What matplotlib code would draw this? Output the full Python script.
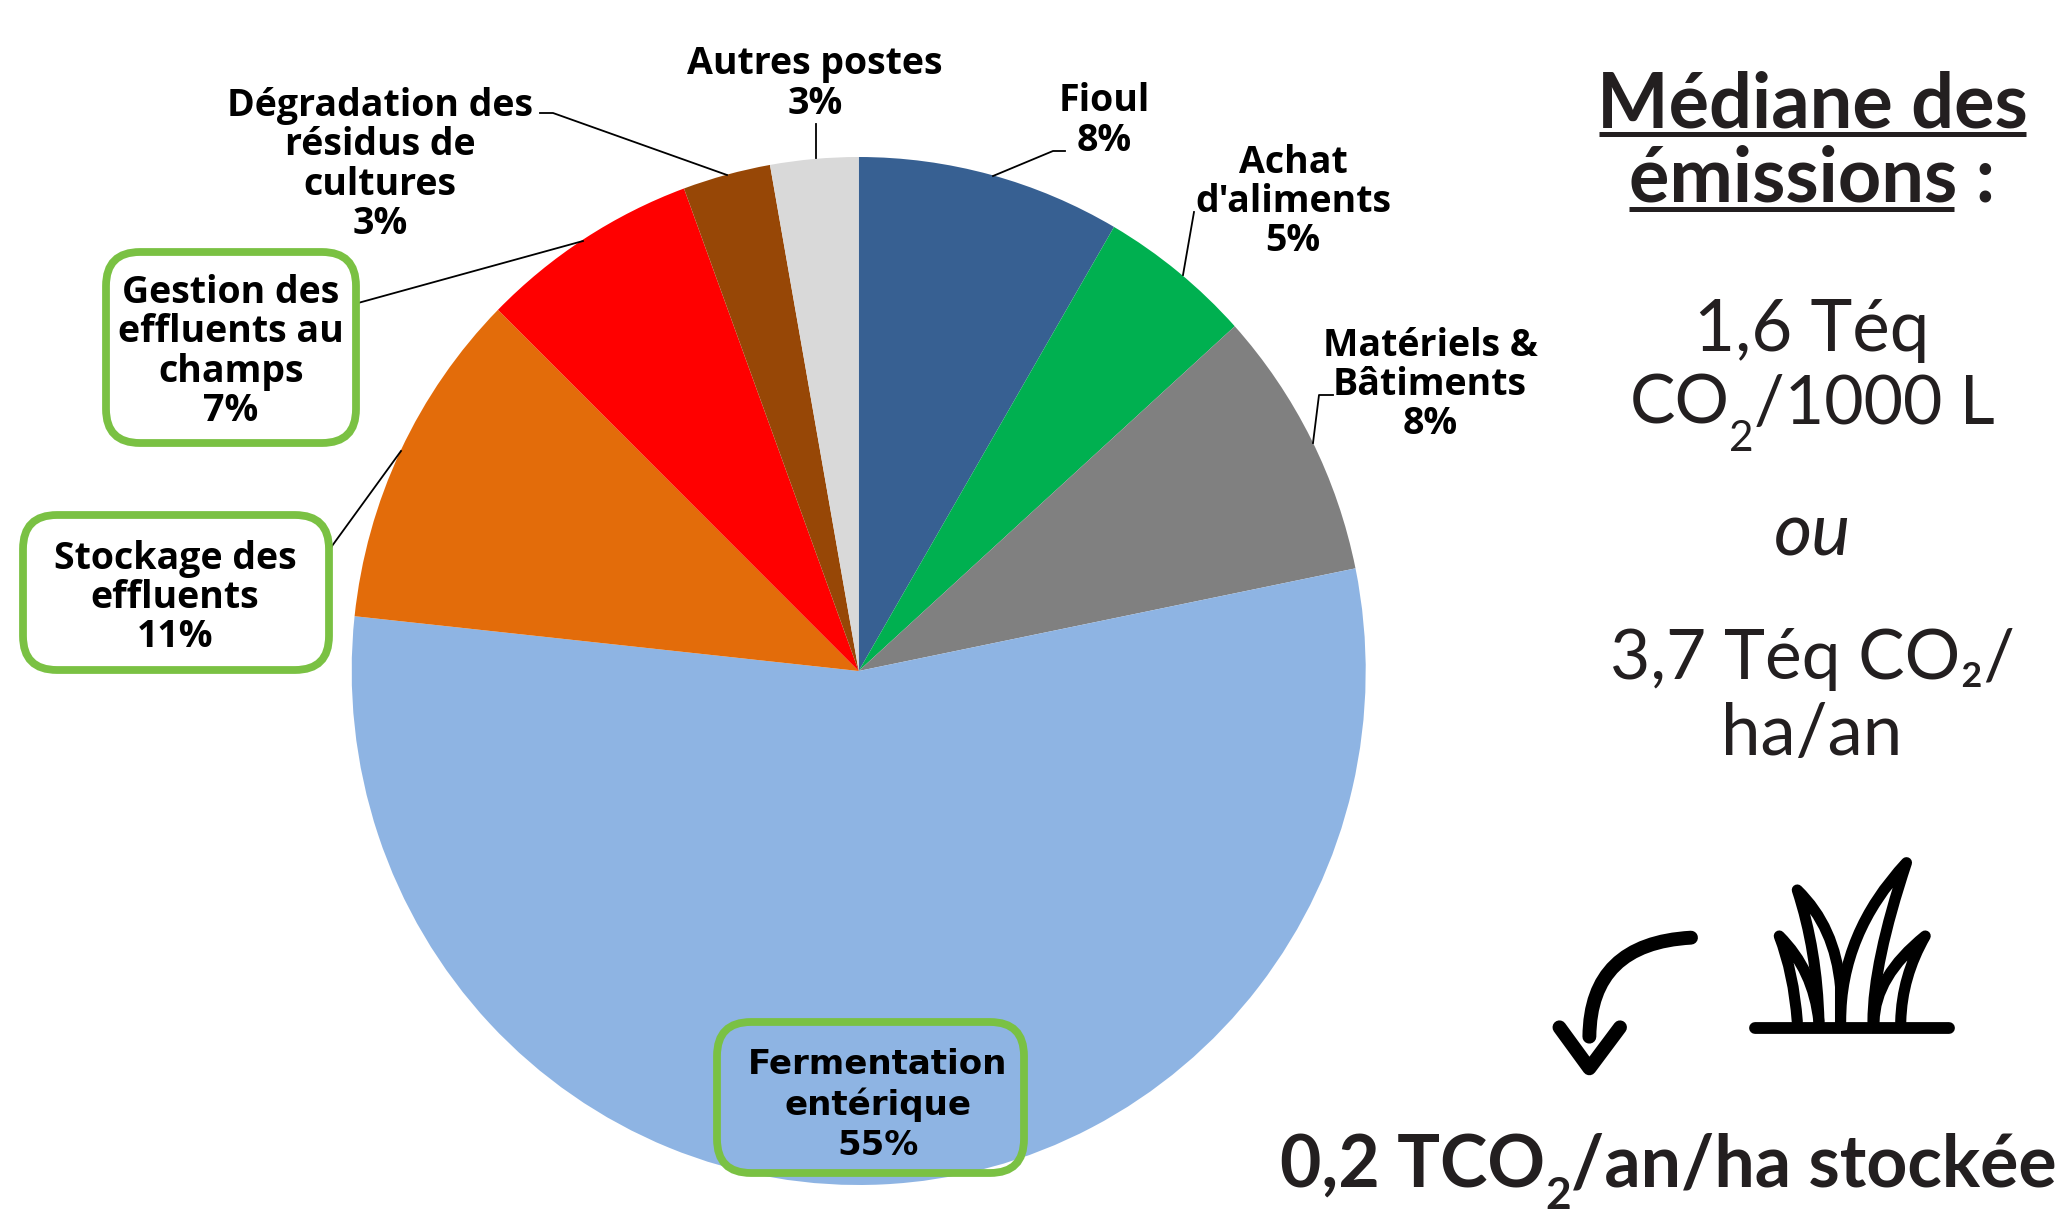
#!/usr/bin/python3

import matplotlib
matplotlib.use("Agg")
import matplotlib.pyplot as plt
from matplotlib.patches import FancyBboxPatch, PathPatch
from matplotlib.path import Path

# --- Data ---
categories = ["Fioul", "Achat\nd'aliments", "Matériels &\nBâtiments", "Fermentation\nentérique",
              "Stockage des\neffluents", "Gestion des\neffluents au\nchamps",
              "Dégradation des\nrésidus de\ncultures", "Autres postes"]
labels_pct = [8, 5, 8, 55, 11, 7, 3, 3]
# wedge sizes as measured on the picture
shares = [8.4, 4.9, 8.5, 54.9, 10.7, 7.0, 2.8, 2.8]
colors = ["#376092", "#00B050", "#808080", "#8EB4E3", "#E36C0A", "#FF0000", "#974706", "#D9D9D9"]

# --- Layout (pixels of the 2065x1215 picture) ---
W, H = 2065, 1215
CX, CY, RX, RY = 858.7, 671, 507, 514
label_pos = [(1104, 121), (1293, 202), (1430, 385), (878, 1105), (175, 598), (231, 352), (380, 165), (815, 84)]
LABEL_SIZE = 27
TEXT_COLOR = "#231F20"

leaders = [
    [(993, 176), (1053, 151), (1065, 151)],
    [(1183, 275), (1194, 212)],
    [(1313, 443), (1319, 395), (1333, 395)],
    [(401, 451), (332, 546), (324, 565), (304, 565)],
    [(583, 241), (358, 303), (347, 303)],
    [(727, 175), (553, 113), (540, 113)],
    [(816, 158), (816, 124)],
]
# x0, y0, x1, y1, filled
boxes = [(106, 252, 356, 443, True), (23, 515, 329, 670, True), (717, 1022, 1024, 1173, False)]

fig = plt.figure(figsize=(W / 100, H / 100), dpi=100)

# pie on its own axes, a bit taller than wide like the picture
ax_pie = fig.add_axes([(CX - RX) / W, 1 - (CY + RY) / H, 2 * RX / W, 2 * RY / H])
ax_pie.pie(shares, colors=colors, startangle=90, counterclock=False, radius=1,
           wedgeprops={"linewidth": 0})
ax_pie.set_aspect("auto")
ax_pie.set_xlim(-1, 1)
ax_pie.set_ylim(-1, 1)

# overlay in picture pixels
ax = fig.add_axes([0, 0, 1, 1])
ax.set_xlim(0, W)
ax.set_ylim(H, 0)
ax.axis("off")
ax.patch.set_alpha(0)

for pts in leaders:
    ax.plot([p[0] for p in pts], [p[1] for p in pts], color="black", lw=1.3, zorder=2)

for x0, y0, x1, y1, filled in boxes:
    ax.add_patch(FancyBboxPatch((x0 + 34, y0 + 34), x1 - x0 - 68, y1 - y0 - 68,
                                boxstyle="round,pad=34,rounding_size=34",
                                fc="white" if filled else "none", ec="#7AC143", lw=5.6, zorder=3))

for name, pct, (x, y) in zip(categories, labels_pct, label_pos):
    # the Fermentation label is the only one in the wider face
    wide = name.startswith("Fermentation")
    ax.text(x, y, f"{name}\n{pct}%", ha="center", va="center", ma="center",
            fontsize=24.5 if wide else LABEL_SIZE, fontweight="bold",
            family="DejaVu Sans" if wide else "Open Sans", color="black",
            linespacing=1.24 if wide else 1.04, zorder=4)


# --- Right column ---
def right_text(x, y, s, size, **kw):
    return ax.text(x, y, s, ha="center", va="baseline", fontsize=size, family="Lato", color=TEXT_COLOR, **kw)


def run_text(cx, y, parts, size, drop=0.55, **kw):
    # text with a big dropped subscript, parts are (string, is_subscript)
    renderer = fig.canvas.get_renderer()
    items = []
    for s, sub in parts:
        t = ax.text(0, y + (size * drop if sub else 0), s, ha="left", va="baseline", family="Lato",
                    fontsize=size * 0.62 if sub else size, color=TEXT_COLOR, **kw)
        items.append((t, t.get_window_extent(renderer).width))
    x = cx - sum(i[1] for i in items) / 2
    for t, w in items:
        t.set_x(x)
        x += w


right_text(1812, 127, "Médiane des", 54.5, fontweight="bold")
ax.plot([1599, 2026], [134, 134], color=TEXT_COLOR, lw=3.6, solid_capstyle="butt")
right_text(1812, 201, "émissions :", 54.5, fontweight="bold")
ax.plot([1629, 1954], [209, 209], color=TEXT_COLOR, lw=3.6, solid_capstyle="butt")
right_text(1812, 351, "1,6 Téq", 51)
run_text(1812, 424, [("CO", False), ("2", True), ("/1000 L", False)], 49)
right_text(1812, 555, "ou", 53, fontstyle="italic")
right_text(1812, 679, "3,7 Téq CO₂/", 50)
right_text(1812, 755, "ha/an", 51)
run_text(1668, 1187, [("0,2 TCO", False), ("2", True), ("/an/ha stockée", False)], 51.5, drop=0.42, fontweight="bold")


# --- Icons ---
def icon(verts, codes, lw):
    ax.add_patch(PathPatch(Path(verts, codes), fc="none", ec="black", lw=lw, capstyle="round", joinstyle="round"))


def z(x, y):
    # from the zoomed crop to picture pixels
    return (1500 + x / 2.775, 830 + y / 3)


M, C, L = Path.MOVETO, Path.CURVE3, Path.LINETO
# arrow
icon([z(530, 323), z(250, 340), z(248, 620)], [M, C, C], 10)
icon([z(165, 592), z(248, 715), z(333, 592)], [M, L, L], 10)
# grass
icon([z(708, 593), z(1245, 593)], [M, L], 8.5)
icon([z(825, 575), z(815, 430), z(775, 318), z(870, 420), z(885, 575)], [M, C, C, C, C], 8)
icon([z(885, 575), z(880, 360), z(825, 180), z(930, 290), z(945, 470), z(945, 575)], [M, C, C, C, C, L], 8)
icon([z(945, 575), z(945, 310), z(1128, 98), z(1035, 400), z(1035, 575)], [M, C, C, C, C], 8)
icon([z(1038, 575), z(1040, 440), z(1180, 318), z(1115, 440), z(1112, 575)], [M, C, C, C, C], 8)

fig.savefig("out.png", dpi=100)
